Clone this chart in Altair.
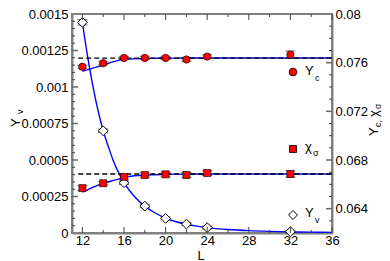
import altair as alt
import pandas as pd

# ---------------- data ----------------
L = [12, 14, 16, 18, 20, 22, 24, 32]
Yc = [0.07566, 0.07595, 0.07639, 0.07639, 0.07639, 0.07626, 0.07650, 0.07666]
Yc_err = [0.00013, 0.00012, 0.00013, 0.00013, 0.00013, 0.00015, 0.00014, 0.00030]
chi = [0.06569, 0.06609, 0.06661, 0.06677, 0.06682, 0.06677, 0.06693, 0.06685]
chi_err = [0.00020, 0.00015, 0.00018, 0.00018, 0.00020, 0.00022, 0.00020, 0.00026]
Yv = [0.001443, 0.000700, 0.000344, 0.000184, 0.000100, 0.000061, 0.000037, 0.000009]
Yv_err = [0.000018, 0.000012, 0.000012, 0.000010, 0.000010, 0.000010, 0.000010, 0.000006]

# fitted curves
Yv_fit_L = [12, 12.5, 13, 13.5, 14, 14.5, 15, 15.5, 16, 17, 18, 19, 20, 21, 22, 23, 24, 26, 28, 30, 32, 34, 36]
Yv_fit = [0.00144, 0.00121, 0.00101, 0.00084, 0.00070, 0.00059, 0.00049, 0.00041, 0.000345,
          0.000250, 0.000184, 0.000137, 0.000102, 0.000077, 0.000060, 0.000047, 0.000037,
          0.000024, 0.000016, 0.000011, 0.000008, 0.000006, 0.000004]
Yc_fit_L = [12, 13, 14, 15, 16, 17, 18, 20, 22, 24, 28, 32, 36]
Yc_fit = [0.07529, 0.07555, 0.07580, 0.07608, 0.07627, 0.07632, 0.07635, 0.07637, 0.07638,
          0.07638, 0.07638, 0.07638, 0.07638]
chi_fit_L = [12, 13, 14, 15, 16, 17, 18, 20, 22, 24, 28, 32, 36]
chi_fit = [0.06535, 0.06575, 0.06608, 0.06632, 0.06655, 0.06670, 0.06677, 0.06682, 0.06684,
           0.06685, 0.06685, 0.06685, 0.06685]

Yc_inf = 0.07638
chi_inf = 0.06685
dash_L = [11.6, 36]

x_labels = [12, 16, 20, 24, 28, 32, 36]
x_minor = [14, 18, 22, 26, 30, 34]
yl_labels = [0, 0.00025, 0.0005, 0.00075, 0.001, 0.00125, 0.0015]
yl_major_ticks = [0.00025, 0.0005, 0.00075, 0.001, 0.00125]
yl_minor_ticks = [0.00005, 0.0001, 0.00015, 0.0002, 0.0003, 0.00035, 0.0004, 0.00045,
                  0.00055, 0.0006, 0.00065, 0.0007, 0.0008, 0.00085, 0.0009, 0.00095,
                  0.00105, 0.0011, 0.00115, 0.0012, 0.0013, 0.00135, 0.0014, 0.00145]
yr_labels = [0.064, 0.068, 0.072, 0.076, 0.08]
yr_minor_ticks = [0.063, 0.065, 0.066, 0.067, 0.069, 0.070, 0.071, 0.073, 0.074, 0.075,
                  0.077, 0.078, 0.079]

FONT = "Liberation Sans"
W, H = 260, 219
AX = "#808080"

# ---------------- tables ----------------
pts = pd.DataFrame({"L": L, "Yc": Yc, "Yc_err": Yc_err, "chi": chi, "chi_err": chi_err,
                    "Yv": Yv, "Yv_err": Yv_err})
for c in ["Yc", "chi", "Yv"]:
    pts[c + "_lo"] = pts[c] - pts[c + "_err"]
    pts[c + "_hi"] = pts[c] + pts[c + "_err"]

yv_fit_df = pd.DataFrame({"L": Yv_fit_L, "v": Yv_fit})
yc_fit_df = pd.DataFrame({"L": Yc_fit_L, "v": Yc_fit})
chi_fit_df = pd.DataFrame({"L": chi_fit_L, "v": chi_fit})
dash_df = pd.DataFrame({"L": dash_L * 2, "v": [Yc_inf] * 2 + [chi_inf] * 2,
                        "s": ["Yc", "Yc", "chi", "chi"]})

x_scale = alt.Scale(domain=[11, 36], nice=False, zero=False)
yl_scale = alt.Scale(domain=[0, 0.0015], nice=False, zero=False)
yr_scale = alt.Scale(domain=[0.062, 0.08], nice=False, zero=False)

x_axis = alt.Axis(values=x_labels, format="d", title="", ticks=False, tickSize=0,
                  labelFlush=False, labelPadding=1, grid=False)
X = alt.X("L:Q", scale=x_scale, axis=x_axis, title="")

yl_axis = alt.Axis(values=yl_labels, format=".5~g", orient="left", title="", ticks=False,
                   tickSize=0, labelFlush=False, labelPadding=4, grid=False)
yr_axis = alt.Axis(values=yr_labels, format=".4~g", orient="right", title="", ticks=False,
                   tickSize=0, labelFlush=False, labelPadding=3, grid=False)


def yl(field):
    return alt.Y(field + ":Q", scale=yl_scale, axis=yl_axis, title="")


def yr(field):
    return alt.Y(field + ":Q", scale=yr_scale, axis=yr_axis, title="")


def errbars(field, yfun):
    rule = alt.Chart(pts).mark_rule(color="#222", strokeWidth=1).encode(
        x=X, y=yfun(field + "_lo"), y2=alt.Y2(field + "_hi"))
    cap_lo = alt.Chart(pts).mark_tick(color="#222", orient="horizontal", size=10,
                                      thickness=1).encode(x=X, y=yfun(field + "_lo"))
    cap_hi = alt.Chart(pts).mark_tick(color="#222", orient="horizontal", size=10,
                                      thickness=1).encode(x=X, y=yfun(field + "_hi"))
    return [rule, cap_lo, cap_hi]


# ---------------- inward ticks ----------------
def xtick_layers(vals, length):
    df = pd.DataFrame({"L": vals})
    bot = alt.Chart(df).mark_rule(color="#444", strokeWidth=1).encode(
        x=X, y=alt.value(H), y2=alt.value(H - length))
    top = alt.Chart(df).mark_rule(color="#444", strokeWidth=1).encode(
        x=X, y=alt.value(0), y2=alt.value(length))
    return [bot, top]


yl_major_df = pd.DataFrame({"t": yl_major_ticks})
yl_minor_df = pd.DataFrame({"t": yl_minor_ticks})
yr_major_df = pd.DataFrame({"t": yr_labels[:-1]})
yr_minor_df = pd.DataFrame({"t": yr_minor_ticks})

left_ticks = [
    alt.Chart(yl_major_df).mark_rule(color="#666", strokeWidth=1.5).encode(
        y=yl("t"), x=alt.value(0), x2=alt.value(6)),
    alt.Chart(yl_minor_df).mark_rule(color="#444", strokeWidth=1).encode(
        y=yl("t"), x=alt.value(0), x2=alt.value(3)),
]
right_ticks = [
    alt.Chart(yr_major_df).mark_rule(color="#666", strokeWidth=1.5).encode(
        y=yr("t"), x=alt.value(W), x2=alt.value(W - 6)),
    alt.Chart(yr_minor_df).mark_rule(color="#444", strokeWidth=1).encode(
        y=yr("t"), x=alt.value(W), x2=alt.value(W - 3)),
]

# ---------------- left (Y_v) layer ----------------
yv_line = alt.Chart(yv_fit_df).mark_line(color="#0000ff", strokeWidth=1.4,
                                         interpolate="monotone").encode(x=X, y=yl("v"))
yv_pts = alt.Chart(pts).mark_point(shape="diamond", size=95, filled=True, fill="white",
                                   stroke="black", strokeWidth=1, opacity=1).encode(
    x=X, y=yl("Yv"))

left = alt.layer(yv_line, *left_ticks, *errbars("Yv", yl), yv_pts,
                 *xtick_layers(x_labels, 6), *xtick_layers(x_minor, 3))

# ---------------- right (Y_c, chi) layer ----------------
dashed = alt.Chart(dash_df).mark_line(color="black", strokeWidth=1.3,
                                      strokeDash=[5, 3]).encode(
    x=X, y=yr("v"), detail="s:N")
yc_line = alt.Chart(yc_fit_df).mark_line(color="#0000ff", strokeWidth=1.4,
                                         interpolate="monotone").encode(x=X, y=yr("v"))
chi_line = alt.Chart(chi_fit_df).mark_line(color="#0000ff", strokeWidth=1.4,
                                           interpolate="monotone").encode(x=X, y=yr("v"))
yc_pts = alt.Chart(pts).mark_point(shape="circle", size=55, filled=True, fill="#ff0000",
                                   stroke="black", strokeWidth=0.6, opacity=1).encode(
    x=X, y=yr("Yc"))
chi_pts = alt.Chart(pts).mark_point(shape="square", size=50, filled=True, fill="#ff0000",
                                    stroke="black", strokeWidth=0.6, opacity=1).encode(
    x=X, y=yr("chi"))

right = alt.layer(yc_line, *right_ticks, chi_line, dashed, *errbars("Yc", yr),
                  *errbars("chi", yr), yc_pts, chi_pts)

# ---------------- legend & titles (decorations) ----------------
one = pd.DataFrame({"k": [0]})


def sym(shape, size, fill, x, y):
    return alt.Chart(one).mark_point(shape=shape, size=size, filled=True, fill=fill,
                                     stroke="black", strokeWidth=0.8 if fill != "white" else 1,
                                     opacity=1).encode(x=alt.value(x), y=alt.value(y))


def txt(s, x, y, size, angle=0, align="left", baseline="middle"):
    return alt.Chart(pd.DataFrame({"t": [s]})).mark_text(
        font=FONT, fontSize=size, align=align, baseline=baseline,
        color="black").encode(x=alt.value(x), y=alt.value(y), text="t:N",
                              angle=alt.value(angle))


decor = [
    sym("circle", 60, "#ff0000", 221, 58),
    txt("Y", 233, 57, 13), txt("c", 243, 64, 9),
    sym("square", 50, "#ff0000", 221, 135),
    txt("χ", 233, 133, 13), txt("σ", 241, 139, 9),
    sym("diamond", 80, "white", 221, 201),
    txt("Y", 233, 199, 13), txt("v", 243, 206, 9),
    # x title
    txt("L", 129, 245.5, 13, align="center", baseline="alphabetic"),
    # left title  Y_v
    txt("Y", -56, 113, 13, angle=270), txt("v", -52, 100, 9, angle=270),
    # right title  Y_c, chi_sigma
    txt("Y", 302, 122, 13, angle=270), txt("c,", 305.5, 113, 8.5, angle=270),
    txt("χ", 302, 103, 13, angle=270), txt("σ", 305.5, 95, 8.5, angle=270),
]

chart = alt.layer(left, right, *decor).resolve_scale(y="independent").properties(
    width=W, height=H,
    autosize=alt.AutoSizeParams(type="none"),
    padding={"left": 64, "top": 6, "right": 50, "bottom": 28},
).configure_view(stroke=AX, strokeWidth=2).configure_axis(
    domainColor=AX, domainWidth=2, labelFont=FONT, titleFont=FONT, labelFontSize=13,
    labelColor="black", titleColor="black", labelOverlap=False, labelBound=False,
)

chart.save("out.html", embed_options={"renderer": "svg", "actions": False})
